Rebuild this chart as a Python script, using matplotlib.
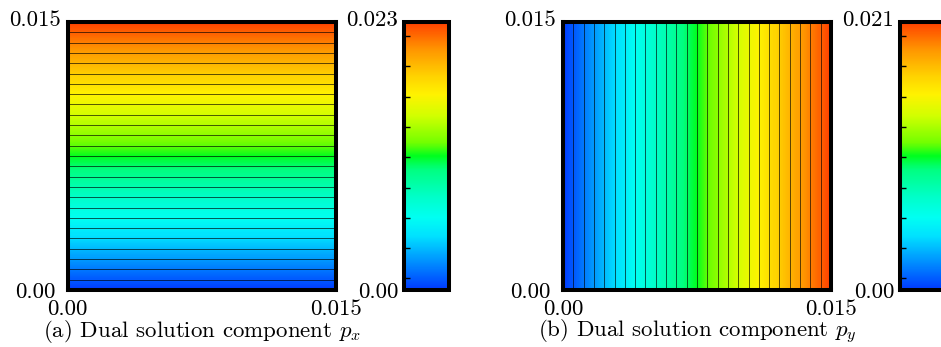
import numpy as np
import matplotlib
matplotlib.use("Agg")
import matplotlib.pyplot as plt
from matplotlib.colors import LinearSegmentedColormap, Normalize
from matplotlib.cm import ScalarMappable
from matplotlib.ticker import FixedLocator
from matplotlib.transforms import ScaledTranslation

plt.rcParams['font.family'] = ['cmr10', 'DejaVu Serif']
plt.rcParams['mathtext.fontset'] = 'cm'
plt.rcParams['axes.formatter.use_mathtext'] = True

# ---- data ----
domain = [0.0, 0.015]                 # x and y extent of both squares
px_corners = [[0.0, 0.0], [0.023, 0.023]]   # p_x at corners: rows = y, cols = x
py_corners = [[0.0, 0.021], [0.0, 0.021]]   # p_y at the same corners
px_limits = [0.0, 0.023]
py_limits = [0.0, 0.021]
axis_ticks = [0.0, 0.015]
axis_ticklabels = ['0.00', '0.015']
px_cbar_labels = ['0.00', '0.023']
py_cbar_labels = ['0.00', '0.021']
captions = [r'(a) Dual solution component $p_x$', r'(b) Dual solution component $p_y$']
n_intervals = 26

# ---- colormap: blue -> cyan -> green -> yellow -> red-orange ----
cmap_nodes = [
    (0.00, (0.00, 0.22, 1.00)),
    (0.10, (0.00, 0.55, 1.00)),
    (0.20, (0.00, 0.88, 1.00)),
    (0.27, (0.00, 1.00, 0.95)),
    (0.35, (0.00, 1.00, 0.78)),
    (0.45, (0.00, 1.00, 0.50)),
    (0.50, (0.00, 1.00, 0.12)),
    (0.55, (0.45, 1.00, 0.00)),
    (0.65, (0.82, 1.00, 0.00)),
    (0.73, (1.00, 0.95, 0.00)),
    (0.80, (1.00, 0.82, 0.00)),
    (0.90, (1.00, 0.58, 0.00)),
    (1.00, (1.00, 0.25, 0.00)),
]
cmap = LinearSegmentedColormap.from_list('dual', cmap_nodes, N=512)

W, H = 941, 347
fig = plt.figure(figsize=(W / 100, H / 100), dpi=100)
up = ScaledTranslation(0, 3.5 / 100, fig.dpi_scale_trans)

FS = 16.5
panels = [
    dict(ax=(67.5, 22, 336, 290), cax=(404, 22, 449, 290), data=px_corners,
         lim=px_limits, clabels=px_cbar_labels, cap=captions[0]),
    dict(ax=(563, 22, 831, 290), cax=(900, 22, 945, 290), data=py_corners,
         lim=py_limits, clabels=py_cbar_labels, cap=captions[1]),
]


def frac(box):
    l, t, r, b = box
    return [l / W, 1 - b / H, (r - l) / W, (b - t) / H]


X, Y = np.meshgrid(domain, domain)
for p in panels:
    ax = fig.add_axes(frac(p['ax']))
    Z = np.array(p['data'])
    vmin, vmax = p['lim']
    norm = Normalize(vmin, vmax)
    fill_levels = np.linspace(vmin, vmax, 257)
    ax.contourf(X, Y, Z, levels=fill_levels, cmap=cmap, norm=norm, antialiased=False)
    levels = np.linspace(vmin, vmax, n_intervals + 1)[1:-1]
    ax.contour(X, Y, Z, levels=levels, colors='black', linewidths=0.6, alpha=0.75)
    ax.set_xlim(domain)
    ax.set_ylim(domain)
    ax.set_xticks(axis_ticks)
    ax.set_xticklabels(axis_ticklabels, fontsize=FS)
    ax.set_yticks(axis_ticks)
    ax.set_yticklabels(axis_ticklabels, fontsize=FS)
    ax.tick_params(axis='x', length=0, pad=6.8)
    ax.tick_params(axis='y', length=0, pad=23.5)
    for lab in ax.get_yticklabels():
        lab.set_horizontalalignment('center')
    top_lab = ax.get_yticklabels()[-1]
    top_lab.set_transform(top_lab.get_transform() + up)
    for s in ax.spines.values():
        s.set_linewidth(2.9)
        s.set_zorder(5)

    cax = fig.add_axes(frac(p['cax']))
    cb = fig.colorbar(ScalarMappable(norm=norm, cmap=cmap), cax=cax)
    cb.outline.set_linewidth(2.9)
    cb.set_ticks([vmin, vmax])
    cb.set_ticklabels(p['clabels'])
    cax.yaxis.set_ticks_position('left')
    cax.tick_params(axis='y', which='major', length=0, pad=4.3, labelsize=FS)
    ctop = cax.get_yticklabels()[-1]
    ctop.set_transform(ctop.get_transform() + up)
    rng = vmax - vmin
    major_minor = np.linspace(vmin + 0.043 * rng, vmin + 0.948 * rng, 9)
    step = major_minor[1] - major_minor[0]
    small = np.arange(major_minor[0] - step, vmax, step / 4)
    small = small[(small > vmin) & (small < vmax)]
    cax.yaxis.set_minor_locator(FixedLocator(list(major_minor)))
    cax.tick_params(axis='y', which='minor', direction='in', length=4, width=1,
                    left=True, right=False, color='black')
    sec = cax.secondary_yaxis('left')
    sec.set_yticks(small)
    sec.set_yticklabels([])
    sec.tick_params(direction='in', length=2, width=0.8)
    sec.spines['left'].set_visible(False)

    l, t, r, b = p['ax']
    fig.text(((l + r) / 2) / W, 1 - 337 / H, p['cap'], ha='center', va='baseline', fontsize=FS)

fig.savefig('out.png', dpi=100)
